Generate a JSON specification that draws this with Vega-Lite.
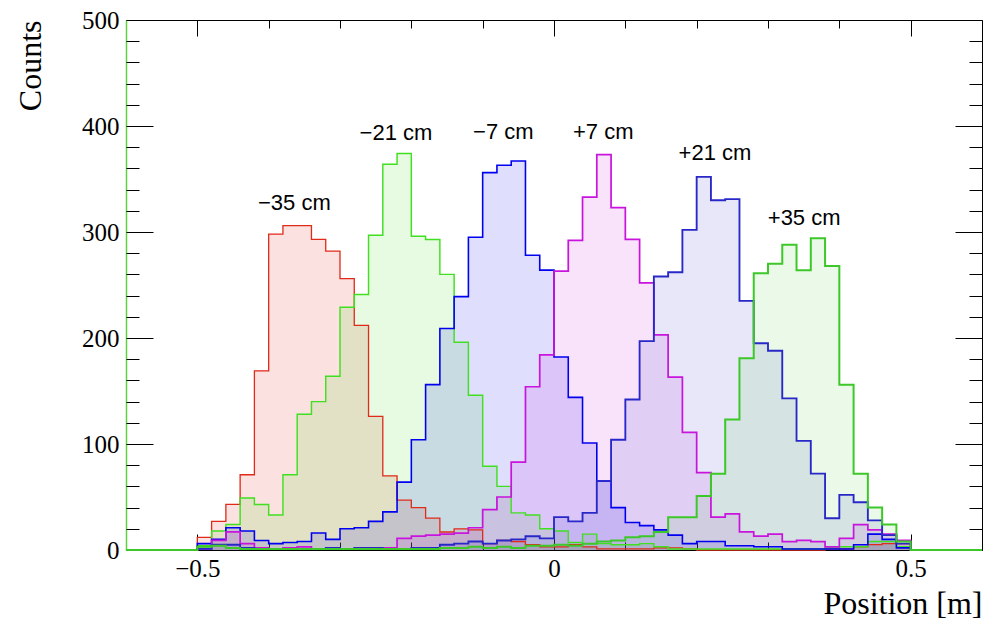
{
"$schema": "https://vega.github.io/schema/vega-lite/v6.json",
"width": 856, "height": 530,
"autosize": {"type": "none"},
"padding": {"left": 126, "top": 20, "right": 2, "bottom": 72},
"background": "white",
"config": {
  "view": {"stroke": "black", "strokeWidth": 1},
  "axis": {"grid": false, "tickColor": "black", "domainColor": "black", "labelColor": "black", "titleColor": "black", "labelFlush": false, "labelOverlap": false, "tickWidth": 1}
},
"datasets": {
"h": [
{"s":"m35","x":-0.6,"n":0},{"s":"m35","x":-0.5,"n":12},{"s":"m35","x":-0.48,"n":27},{"s":"m35","x":-0.46,"n":43},{"s":"m35","x":-0.44,"n":71},{"s":"m35","x":-0.42,"n":169},{"s":"m35","x":-0.4,"n":298},{"s":"m35","x":-0.38,"n":306},{"s":"m35","x":-0.36,"n":306},{"s":"m35","x":-0.34,"n":293},{"s":"m35","x":-0.32,"n":282},{"s":"m35","x":-0.3,"n":256},{"s":"m35","x":-0.28,"n":212},{"s":"m35","x":-0.26,"n":126},{"s":"m35","x":-0.24,"n":70},{"s":"m35","x":-0.22,"n":47},{"s":"m35","x":-0.2,"n":40},{"s":"m35","x":-0.18,"n":30},{"s":"m35","x":-0.16,"n":17},{"s":"m35","x":-0.14,"n":20},{"s":"m35","x":-0.12,"n":19},{"s":"m35","x":-0.1,"n":6},{"s":"m35","x":-0.08,"n":9},{"s":"m35","x":-0.06,"n":8},{"s":"m35","x":-0.04,"n":5},{"s":"m35","x":-0.02,"n":3},{"s":"m35","x":0,"n":3},{"s":"m35","x":0.02,"n":5},{"s":"m35","x":0.04,"n":3},{"s":"m35","x":0.06,"n":1},{"s":"m35","x":0.08,"n":1},{"s":"m35","x":0.1,"n":1},{"s":"m35","x":0.12,"n":1},{"s":"m35","x":0.14,"n":2},{"s":"m35","x":0.16,"n":2},{"s":"m35","x":0.18,"n":1},{"s":"m35","x":0.2,"n":0},{"s":"m35","x":0.22,"n":0},{"s":"m35","x":0.24,"n":0},{"s":"m35","x":0.26,"n":0},{"s":"m35","x":0.28,"n":0},{"s":"m35","x":0.3,"n":0},{"s":"m35","x":0.32,"n":0},{"s":"m35","x":0.34,"n":0},{"s":"m35","x":0.36,"n":0},{"s":"m35","x":0.38,"n":1},{"s":"m35","x":0.4,"n":1},{"s":"m35","x":0.42,"n":3},{"s":"m35","x":0.44,"n":5},{"s":"m35","x":0.46,"n":6},{"s":"m35","x":0.48,"n":6},{"s":"m35","x":0.5,"n":0},{"s":"m35","x":0.6,"n":0},
{"s":"m21","x":-0.6,"n":0},{"s":"m21","x":-0.5,"n":4},{"s":"m21","x":-0.48,"n":18},{"s":"m21","x":-0.46,"n":24},{"s":"m21","x":-0.44,"n":49},{"s":"m21","x":-0.42,"n":43},{"s":"m21","x":-0.4,"n":33},{"s":"m21","x":-0.38,"n":71},{"s":"m21","x":-0.36,"n":128},{"s":"m21","x":-0.34,"n":140},{"s":"m21","x":-0.32,"n":164},{"s":"m21","x":-0.3,"n":229},{"s":"m21","x":-0.28,"n":241},{"s":"m21","x":-0.26,"n":297},{"s":"m21","x":-0.24,"n":364},{"s":"m21","x":-0.22,"n":374},{"s":"m21","x":-0.2,"n":296},{"s":"m21","x":-0.18,"n":293},{"s":"m21","x":-0.16,"n":260},{"s":"m21","x":-0.14,"n":196},{"s":"m21","x":-0.12,"n":146},{"s":"m21","x":-0.1,"n":79},{"s":"m21","x":-0.08,"n":60},{"s":"m21","x":-0.06,"n":35},{"s":"m21","x":-0.04,"n":33},{"s":"m21","x":-0.02,"n":20},{"s":"m21","x":0,"n":18},{"s":"m21","x":0.02,"n":7},{"s":"m21","x":0.04,"n":15},{"s":"m21","x":0.06,"n":6},{"s":"m21","x":0.08,"n":5},{"s":"m21","x":0.1,"n":5},{"s":"m21","x":0.12,"n":6},{"s":"m21","x":0.14,"n":3},{"s":"m21","x":0.16,"n":1},{"s":"m21","x":0.18,"n":1},{"s":"m21","x":0.2,"n":1},{"s":"m21","x":0.22,"n":1},{"s":"m21","x":0.24,"n":1},{"s":"m21","x":0.26,"n":1},{"s":"m21","x":0.28,"n":1},{"s":"m21","x":0.3,"n":1},{"s":"m21","x":0.32,"n":1},{"s":"m21","x":0.34,"n":1},{"s":"m21","x":0.36,"n":1},{"s":"m21","x":0.38,"n":2},{"s":"m21","x":0.4,"n":3},{"s":"m21","x":0.42,"n":3},{"s":"m21","x":0.44,"n":8},{"s":"m21","x":0.46,"n":8},{"s":"m21","x":0.48,"n":3},{"s":"m21","x":0.5,"n":0},{"s":"m21","x":0.6,"n":0},
{"s":"m7","x":-0.6,"n":0},{"s":"m7","x":-0.5,"n":6},{"s":"m7","x":-0.48,"n":10},{"s":"m7","x":-0.46,"n":21},{"s":"m7","x":-0.44,"n":18},{"s":"m7","x":-0.42,"n":9},{"s":"m7","x":-0.4,"n":6},{"s":"m7","x":-0.38,"n":7},{"s":"m7","x":-0.36,"n":8},{"s":"m7","x":-0.34,"n":16},{"s":"m7","x":-0.32,"n":10},{"s":"m7","x":-0.3,"n":20},{"s":"m7","x":-0.28,"n":21},{"s":"m7","x":-0.26,"n":27},{"s":"m7","x":-0.24,"n":36},{"s":"m7","x":-0.22,"n":64},{"s":"m7","x":-0.2,"n":104},{"s":"m7","x":-0.18,"n":156},{"s":"m7","x":-0.16,"n":209},{"s":"m7","x":-0.14,"n":239},{"s":"m7","x":-0.12,"n":295},{"s":"m7","x":-0.1,"n":356},{"s":"m7","x":-0.08,"n":363},{"s":"m7","x":-0.06,"n":367},{"s":"m7","x":-0.04,"n":278},{"s":"m7","x":-0.02,"n":264},{"s":"m7","x":0,"n":182},{"s":"m7","x":0.02,"n":144},{"s":"m7","x":0.04,"n":101},{"s":"m7","x":0.06,"n":65},{"s":"m7","x":0.08,"n":40},{"s":"m7","x":0.1,"n":26},{"s":"m7","x":0.12,"n":23},{"s":"m7","x":0.14,"n":19},{"s":"m7","x":0.16,"n":14},{"s":"m7","x":0.18,"n":6},{"s":"m7","x":0.2,"n":8},{"s":"m7","x":0.22,"n":8},{"s":"m7","x":0.24,"n":4},{"s":"m7","x":0.26,"n":4},{"s":"m7","x":0.28,"n":3},{"s":"m7","x":0.3,"n":3},{"s":"m7","x":0.32,"n":1},{"s":"m7","x":0.34,"n":1},{"s":"m7","x":0.36,"n":1},{"s":"m7","x":0.38,"n":1},{"s":"m7","x":0.4,"n":1},{"s":"m7","x":0.42,"n":5},{"s":"m7","x":0.44,"n":15},{"s":"m7","x":0.46,"n":10},{"s":"m7","x":0.48,"n":2},{"s":"m7","x":0.5,"n":0},{"s":"m7","x":0.6,"n":0},
{"s":"p7","x":-0.6,"n":0},{"s":"p7","x":-0.5,"n":1},{"s":"p7","x":-0.48,"n":9},{"s":"p7","x":-0.46,"n":17},{"s":"p7","x":-0.44,"n":6},{"s":"p7","x":-0.42,"n":2},{"s":"p7","x":-0.4,"n":1},{"s":"p7","x":-0.38,"n":2},{"s":"p7","x":-0.36,"n":3},{"s":"p7","x":-0.34,"n":1},{"s":"p7","x":-0.32,"n":1},{"s":"p7","x":-0.3,"n":1},{"s":"p7","x":-0.28,"n":1},{"s":"p7","x":-0.26,"n":2},{"s":"p7","x":-0.24,"n":2},{"s":"p7","x":-0.22,"n":11},{"s":"p7","x":-0.2,"n":13},{"s":"p7","x":-0.18,"n":14},{"s":"p7","x":-0.16,"n":15},{"s":"p7","x":-0.14,"n":16},{"s":"p7","x":-0.12,"n":21},{"s":"p7","x":-0.1,"n":38},{"s":"p7","x":-0.08,"n":50},{"s":"p7","x":-0.06,"n":83},{"s":"p7","x":-0.04,"n":154},{"s":"p7","x":-0.02,"n":184},{"s":"p7","x":0,"n":263},{"s":"p7","x":0.02,"n":292},{"s":"p7","x":0.04,"n":333},{"s":"p7","x":0.06,"n":373},{"s":"p7","x":0.08,"n":323},{"s":"p7","x":0.1,"n":293},{"s":"p7","x":0.12,"n":252},{"s":"p7","x":0.14,"n":203},{"s":"p7","x":0.16,"n":163},{"s":"p7","x":0.18,"n":111},{"s":"p7","x":0.2,"n":73},{"s":"p7","x":0.22,"n":31},{"s":"p7","x":0.24,"n":34},{"s":"p7","x":0.26,"n":17},{"s":"p7","x":0.28,"n":13},{"s":"p7","x":0.3,"n":15},{"s":"p7","x":0.32,"n":8},{"s":"p7","x":0.34,"n":9},{"s":"p7","x":0.36,"n":8},{"s":"p7","x":0.38,"n":3},{"s":"p7","x":0.4,"n":11},{"s":"p7","x":0.42,"n":24},{"s":"p7","x":0.44,"n":19},{"s":"p7","x":0.46,"n":15},{"s":"p7","x":0.48,"n":9},{"s":"p7","x":0.5,"n":0},{"s":"p7","x":0.6,"n":0},
{"s":"p21","x":-0.6,"n":0},{"s":"p21","x":-0.5,"n":1},{"s":"p21","x":-0.48,"n":5},{"s":"p21","x":-0.46,"n":5},{"s":"p21","x":-0.44,"n":2},{"s":"p21","x":-0.42,"n":1},{"s":"p21","x":-0.4,"n":1},{"s":"p21","x":-0.38,"n":1},{"s":"p21","x":-0.36,"n":1},{"s":"p21","x":-0.34,"n":1},{"s":"p21","x":-0.32,"n":2},{"s":"p21","x":-0.3,"n":1},{"s":"p21","x":-0.28,"n":2},{"s":"p21","x":-0.26,"n":2},{"s":"p21","x":-0.24,"n":1},{"s":"p21","x":-0.22,"n":1},{"s":"p21","x":-0.2,"n":2},{"s":"p21","x":-0.18,"n":2},{"s":"p21","x":-0.16,"n":5},{"s":"p21","x":-0.14,"n":6},{"s":"p21","x":-0.12,"n":8},{"s":"p21","x":-0.1,"n":6},{"s":"p21","x":-0.08,"n":9},{"s":"p21","x":-0.06,"n":10},{"s":"p21","x":-0.04,"n":13},{"s":"p21","x":-0.02,"n":11},{"s":"p21","x":0,"n":31},{"s":"p21","x":0.02,"n":27},{"s":"p21","x":0.04,"n":35},{"s":"p21","x":0.06,"n":65},{"s":"p21","x":0.08,"n":104},{"s":"p21","x":0.1,"n":142},{"s":"p21","x":0.12,"n":197},{"s":"p21","x":0.14,"n":258},{"s":"p21","x":0.16,"n":262},{"s":"p21","x":0.18,"n":302},{"s":"p21","x":0.2,"n":352},{"s":"p21","x":0.22,"n":330},{"s":"p21","x":0.24,"n":331},{"s":"p21","x":0.26,"n":235},{"s":"p21","x":0.28,"n":195},{"s":"p21","x":0.3,"n":188},{"s":"p21","x":0.32,"n":143},{"s":"p21","x":0.34,"n":103},{"s":"p21","x":0.36,"n":72},{"s":"p21","x":0.38,"n":30},{"s":"p21","x":0.4,"n":52},{"s":"p21","x":0.42,"n":45},{"s":"p21","x":0.44,"n":28},{"s":"p21","x":0.46,"n":14},{"s":"p21","x":0.48,"n":6},{"s":"p21","x":0.5,"n":0},{"s":"p21","x":0.6,"n":0},
{"s":"p35","x":-0.6,"n":0},{"s":"p35","x":-0.5,"n":3},{"s":"p35","x":-0.48,"n":4},{"s":"p35","x":-0.46,"n":2},{"s":"p35","x":-0.44,"n":1},{"s":"p35","x":-0.42,"n":1},{"s":"p35","x":-0.4,"n":1},{"s":"p35","x":-0.38,"n":1},{"s":"p35","x":-0.36,"n":1},{"s":"p35","x":-0.34,"n":1},{"s":"p35","x":-0.32,"n":1},{"s":"p35","x":-0.3,"n":1},{"s":"p35","x":-0.28,"n":1},{"s":"p35","x":-0.26,"n":1},{"s":"p35","x":-0.24,"n":1},{"s":"p35","x":-0.22,"n":1},{"s":"p35","x":-0.2,"n":1},{"s":"p35","x":-0.18,"n":1},{"s":"p35","x":-0.16,"n":2},{"s":"p35","x":-0.14,"n":2},{"s":"p35","x":-0.12,"n":3},{"s":"p35","x":-0.1,"n":2},{"s":"p35","x":-0.08,"n":3},{"s":"p35","x":-0.06,"n":2},{"s":"p35","x":-0.04,"n":4},{"s":"p35","x":-0.02,"n":4},{"s":"p35","x":0,"n":5},{"s":"p35","x":0.02,"n":4},{"s":"p35","x":0.04,"n":6},{"s":"p35","x":0.06,"n":8},{"s":"p35","x":0.08,"n":9},{"s":"p35","x":0.1,"n":12},{"s":"p35","x":0.12,"n":13},{"s":"p35","x":0.14,"n":17},{"s":"p35","x":0.16,"n":31},{"s":"p35","x":0.18,"n":31},{"s":"p35","x":0.2,"n":51},{"s":"p35","x":0.22,"n":72},{"s":"p35","x":0.24,"n":123},{"s":"p35","x":0.26,"n":181},{"s":"p35","x":0.28,"n":261},{"s":"p35","x":0.3,"n":270},{"s":"p35","x":0.32,"n":288},{"s":"p35","x":0.34,"n":264},{"s":"p35","x":0.36,"n":294},{"s":"p35","x":0.38,"n":268},{"s":"p35","x":0.4,"n":156},{"s":"p35","x":0.42,"n":72},{"s":"p35","x":0.44,"n":40},{"s":"p35","x":0.46,"n":24},{"s":"p35","x":0.48,"n":8},{"s":"p35","x":0.5,"n":0},{"s":"p35","x":0.6,"n":0}
]
},
"resolve": {"axis": {"x": "independent", "y": "independent"}},
"layer": [
{
  "data": {"name": "h"},
  "mark": {"type": "area", "interpolate": "step-after"},
  "encoding": {
    "x": {"field": "x", "type": "quantitative", "scale": {"domain": [-0.6, 0.6], "nice": false, "zero": false},
      "axis": {"orient": "bottom", "values": [-0.5, 0, 0.5], "format": "~g", "ticks": false, "domain": false,
        "labelFont": "Liberation Serif", "labelFontSize": 25, "labelPadding": 6,
        "title": "Position [m]", "titleFont": "Liberation Serif", "titleFontSize": 32, "titleFontWeight": "normal",
        "titleAnchor": "end", "titleAlign": "right", "titleX": 856, "titleY": 63, "titleBaseline": "alphabetic"}},
    "y": {"field": "n", "type": "quantitative", "stack": null, "scale": {"domain": [0, 500], "nice": false},
      "axis": {"orient": "left", "values": [0, 100, 200, 300, 400, 500], "ticks": false, "domain": true, "domainColor": "#5fd23f", "domainWidth": 1.5,
        "labelFont": "Liberation Serif", "labelFontSize": 25, "labelPadding": 7,
        "title": "Counts", "titleFont": "Liberation Serif", "titleFontSize": 32, "titleFontWeight": "normal",
        "titleAngle": -90, "titleAlign": "right", "titleBaseline": "alphabetic", "titleX": -86, "titleY": 0}},
    "color": {"field": "s", "type": "nominal", "legend": null,
      "scale": {"domain": ["m35", "m21", "m7", "p7", "p21", "p35"], "range": ["#e02a1a", "#40e020", "#0000f0", "#c814dc", "#2828c8", "#3cc828"]}},
    "fillOpacity": {"field": "s", "type": "nominal", "legend": null,
      "scale": {"domain": ["m35", "m21", "m7", "p7", "p21", "p35"], "range": [0.14, 0.1, 0.1, 0.15, 0.18, 0.06]}}
  }
},
{
  "data": {"name": "h"},
  "mark": {"type": "line", "interpolate": "step-after"},
  "encoding": {
    "x": {"field": "x", "type": "quantitative", "scale": {"domain": [-0.6, 0.6], "nice": false, "zero": false},
      "axis": {"orient": "bottom", "values": [-0.5, 0, 0.5], "tickSize": -16, "labels": false, "domain": false, "title": null}},
    "y": {"field": "n", "type": "quantitative", "scale": {"domain": [0, 500], "nice": false},
      "axis": {"orient": "left", "values": [0, 100, 200, 300, 400, 500], "tickSize": -27, "labels": false, "domain": false, "title": null}},
    "color": {"field": "s", "type": "nominal", "legend": null,
      "scale": {"domain": ["m35", "m21", "m7", "p7", "p21", "p35"], "range": ["#ee3b2b", "#6ae84a", "#1a2af5", "#e050ea", "#4d55dd", "#8fdc7c"]}},
    "strokeWidth": {"field": "s", "type": "nominal", "legend": null,
      "scale": {"domain": ["m35", "m21", "m7", "p7", "p21", "p35"], "range": [1.3, 2, 1.3, 1.3, 1.3, 1.3]}}
  }
},
{
  "data": {"values": [{"t": "−35 cm", "x": -0.364, "n": 321}, {"t": "−21 cm", "x": -0.2215, "n": 387}]},
  "mark": {"type": "text", "font": "Liberation Sans", "fontSize": 22, "align": "center", "baseline": "alphabetic", "color": "black"},
  "encoding": {
    "x": {"field": "x", "type": "quantitative", "scale": {"domain": [-0.6, 0.6], "nice": false, "zero": false},
      "axis": {"orient": "bottom", "values": [-0.4, -0.3, -0.2, -0.1, 0.1, 0.2, 0.3, 0.4], "tickSize": -8, "labels": false, "domain": false, "title": null}},
    "y": {"field": "n", "type": "quantitative", "scale": {"domain": [0, 500], "nice": false},
      "axis": {"orient": "left", "values": [20, 40, 60, 80, 120, 140, 160, 180, 220, 240, 260, 280, 320, 340, 360, 380, 420, 440, 460, 480], "tickSize": -13, "labels": false, "domain": false, "title": null}},
    "text": {"field": "t"}
  }
},
{
  "data": {"values": [{"t": "−7 cm", "x": -0.071, "n": 388}, {"t": "+7 cm", "x": 0.069, "n": 388}]},
  "mark": {"type": "text", "font": "Liberation Sans", "fontSize": 22, "align": "center", "baseline": "alphabetic", "color": "black"},
  "encoding": {
    "x": {"field": "x", "type": "quantitative", "scale": {"domain": [-0.6, 0.6], "nice": false, "zero": false},
      "axis": {"orient": "top", "values": [-0.5, 0, 0.5], "tickSize": -16, "labels": false, "domain": false, "title": null}},
    "y": {"field": "n", "type": "quantitative", "scale": {"domain": [0, 500], "nice": false},
      "axis": {"orient": "right", "values": [0, 100, 200, 300, 400, 500], "tickSize": -27, "labels": false, "domain": false, "title": null}},
    "text": {"field": "t"}
  }
},
{
  "data": {"values": [{"t": "+21 cm", "x": 0.2256, "n": 368}, {"t": "+35 cm", "x": 0.3507, "n": 307}]},
  "mark": {"type": "text", "font": "Liberation Sans", "fontSize": 22, "align": "center", "baseline": "alphabetic", "color": "black"},
  "encoding": {
    "x": {"field": "x", "type": "quantitative", "scale": {"domain": [-0.6, 0.6], "nice": false, "zero": false},
      "axis": {"orient": "top", "values": [-0.4, -0.3, -0.2, -0.1, 0.1, 0.2, 0.3, 0.4], "tickSize": -8, "labels": false, "domain": false, "title": null}},
    "y": {"field": "n", "type": "quantitative", "scale": {"domain": [0, 500], "nice": false},
      "axis": {"orient": "right", "values": [20, 40, 60, 80, 120, 140, 160, 180, 220, 240, 260, 280, 320, 340, 360, 380, 420, 440, 460, 480], "tickSize": -13, "labels": false, "domain": false, "title": null}},
    "text": {"field": "t"}
  }
}
]
}
